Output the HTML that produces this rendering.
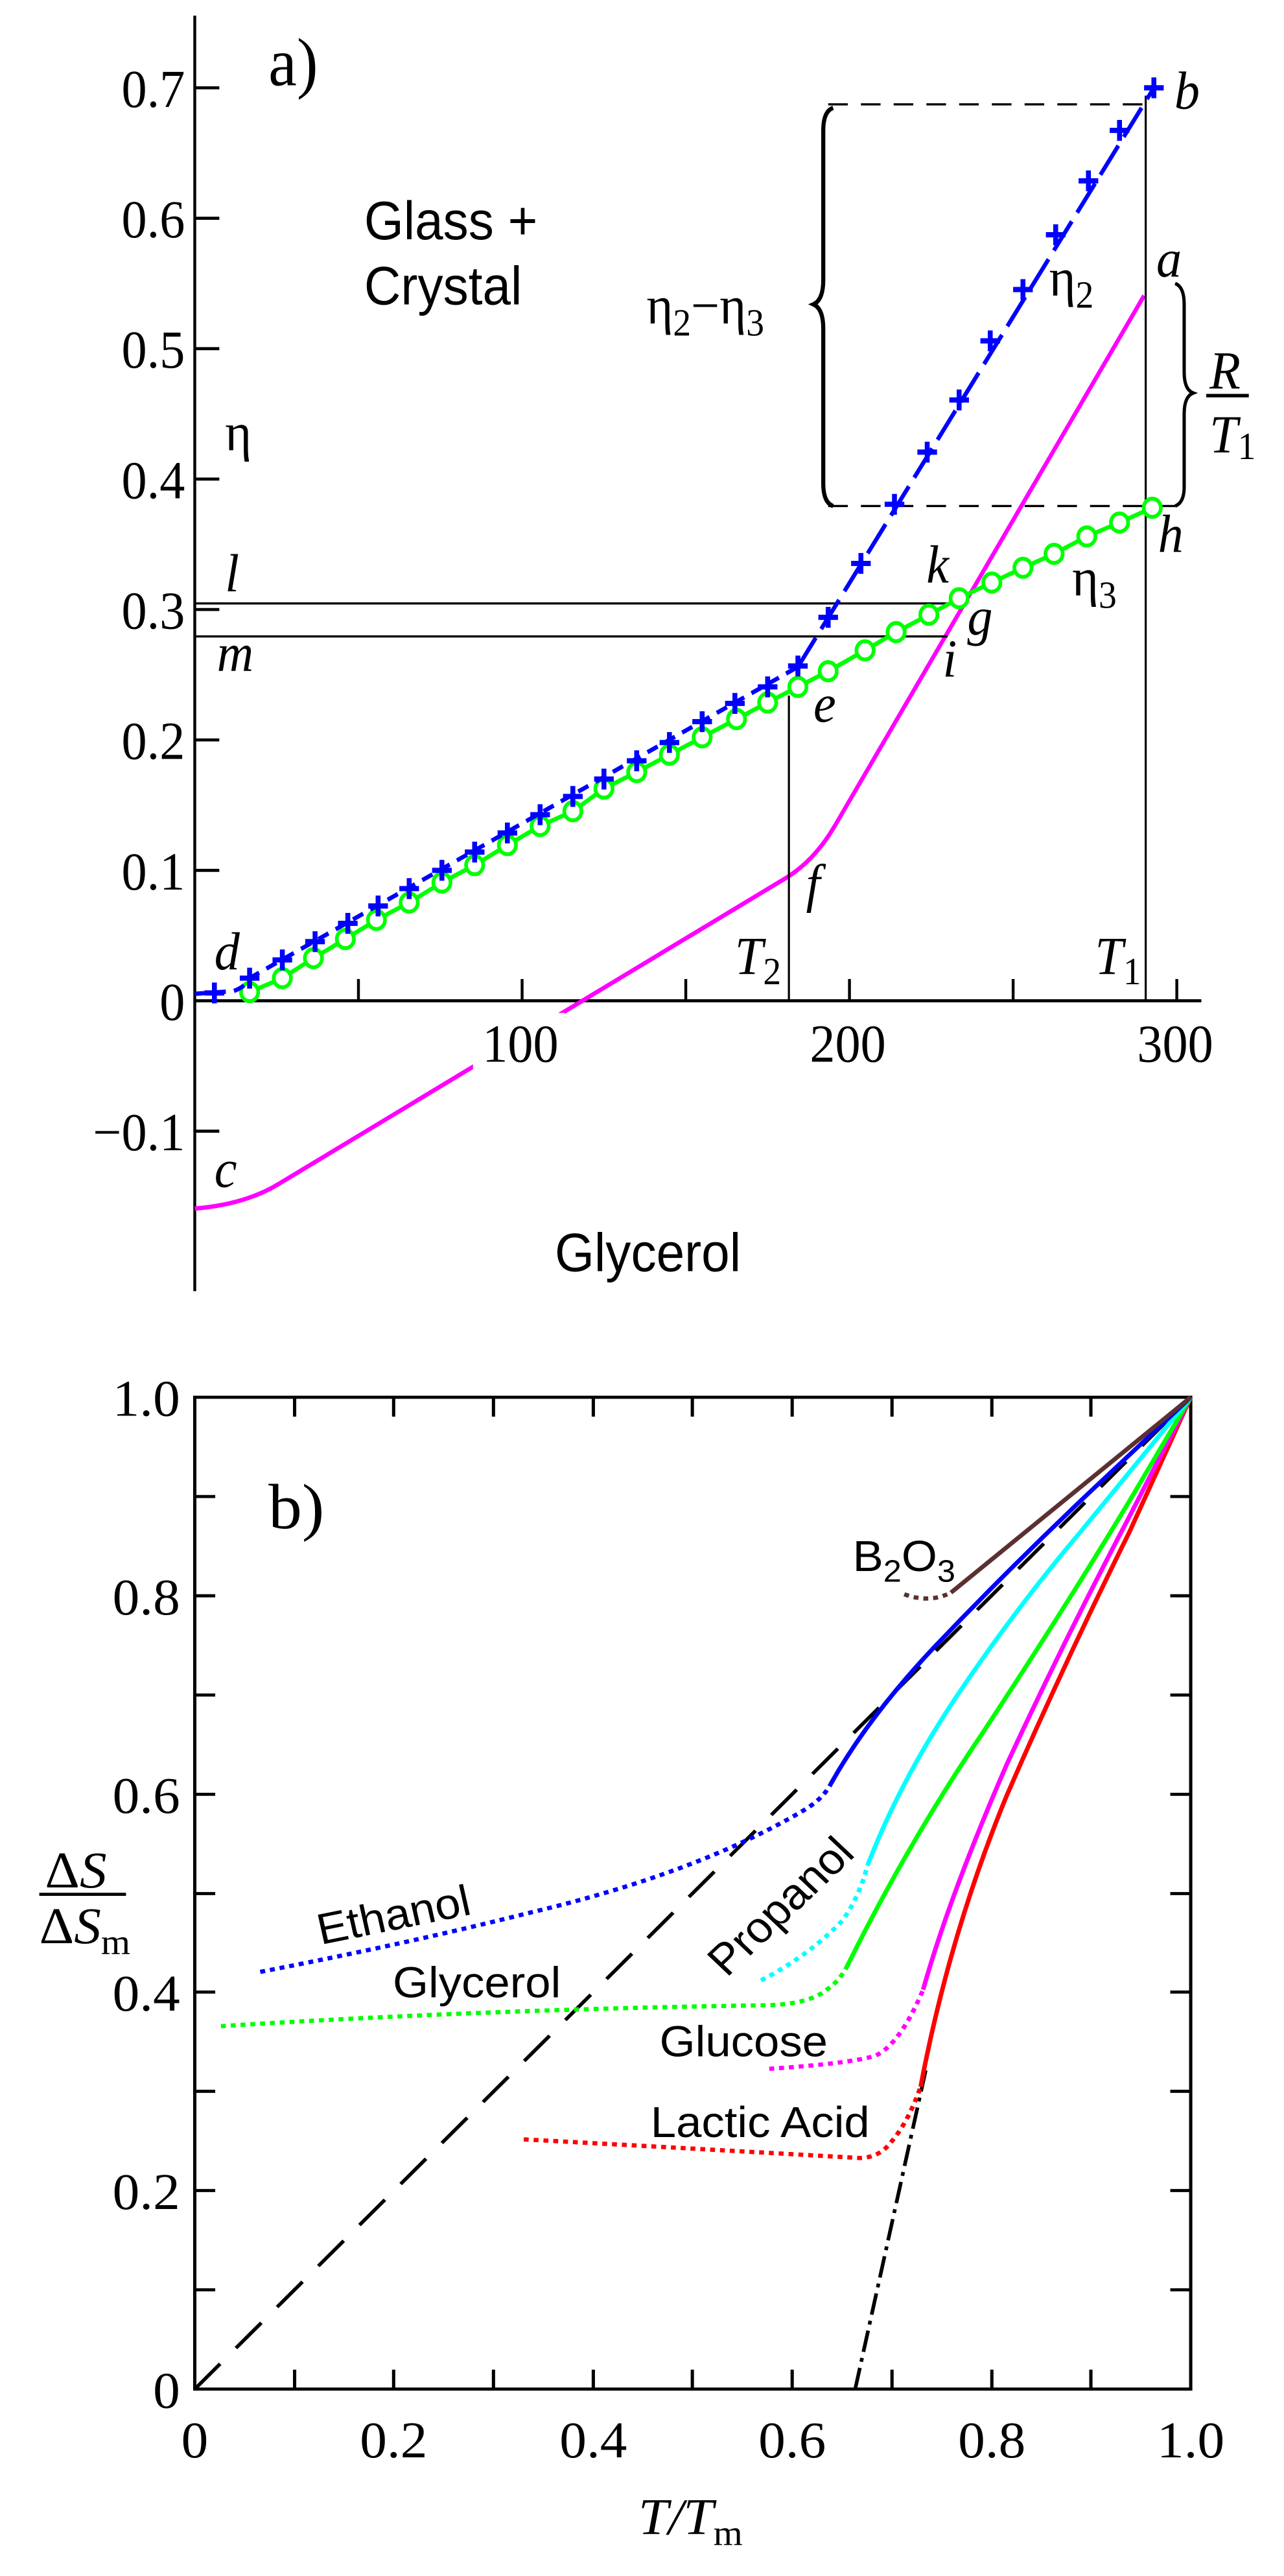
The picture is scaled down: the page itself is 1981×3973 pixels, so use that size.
<!DOCTYPE html>
<html><head><meta charset="utf-8"><style>
html,body{margin:0;padding:0;background:#fff}
svg{display:block}
.s{font-family:"Liberation Serif",serif}
.a{font-family:"Liberation Sans",sans-serif}
.i{font-family:"Liberation Serif",serif;font-style:italic}
</style></head><body>
<svg width="1981" height="3973" viewBox="0 0 1981 3973" xmlns="http://www.w3.org/2000/svg">
<defs>
<path id="p" d="M-12 0H12M0 -12V12" stroke="#0000ff" stroke-width="6" fill="none"/>
</defs>
<rect width="1981" height="3973" fill="#fff"/>
<g transform="scale(1.2626,1.341)">
 <line x1="238" y1="18" x2="238" y2="1485" stroke="#000" stroke-width="3.5"/>
 <line x1="238" y1="1151" x2="1468" y2="1151" stroke="#000" stroke-width="3.5"/>
 <g stroke="#000" stroke-width="3.5">
  <line x1="238" y1="101" x2="268" y2="101"/><line x1="238" y1="251" x2="268" y2="251"/>
  <line x1="238" y1="401" x2="268" y2="401"/><line x1="238" y1="551" x2="268" y2="551"/>
  <line x1="238" y1="701" x2="268" y2="701"/><line x1="238" y1="851" x2="268" y2="851"/>
  <line x1="238" y1="1001" x2="268" y2="1001"/><line x1="238" y1="1301" x2="268" y2="1301"/>
  <line x1="438" y1="1151" x2="438" y2="1126"/><line x1="638" y1="1151" x2="638" y2="1126"/>
  <line x1="838" y1="1151" x2="838" y2="1126"/><line x1="1038" y1="1151" x2="1038" y2="1126"/>
  <line x1="1238" y1="1151" x2="1238" y2="1126"/><line x1="1438" y1="1151" x2="1438" y2="1126"/>
 </g>
 <g class="s" font-size="62" text-anchor="end">
  <text x="226" y="123">0.7</text><text x="226" y="273">0.6</text><text x="226" y="423">0.5</text>
  <text x="226" y="573">0.4</text><text x="226" y="723">0.3</text><text x="226" y="873">0.2</text>
  <text x="226" y="1023">0.1</text><text x="226" y="1173">0</text><text x="226" y="1323">−0.1</text>
 </g>
 <path d="M238 1390 Q300 1385 340 1362 L960 1010 Q995 990 1020 950 L1398 340" stroke="#ff00ff" stroke-width="5" fill="none"/>
 <rect x="578" y="1165" width="112" height="66" fill="#fff"/>
 <g class="s" font-size="62" text-anchor="middle">
  <text x="636" y="1221">100</text><text x="1036" y="1221">200</text><text x="1436" y="1221">300</text>
 </g>
 <g stroke="#000" stroke-width="2.5" fill="none">
  <line x1="238" y1="694" x2="1160" y2="694"/>
  <line x1="238" y1="732" x2="1158" y2="732"/>
  <line x1="964" y1="1151" x2="964" y2="800"/>
  <line x1="1400" y1="1151" x2="1400" y2="110"/>
  <line x1="1012" y1="120" x2="1400" y2="120" stroke-dasharray="24,16"/>
  <line x1="1012" y1="582" x2="1440" y2="582" stroke-dasharray="24,16"/>
 </g>
 <path d="M1018 124 Q1006 128 1006 150 L1006 322 Q1006 345 994 350 Q1006 355 1006 378 L1006 556 Q1006 578 1018 582" stroke="#000" stroke-width="5" fill="none"/>
 <path d="M1436 326 Q1447 330 1447 350 L1447 428 Q1447 448 1458 452 Q1447 456 1447 476 L1447 560 Q1447 578 1436 582" stroke="#000" stroke-width="4" fill="none"/>
 <polyline points="305,1141 345,1125 383,1102 422,1080 460,1058 500,1038 540,1015 580,995 620,972 660,950 700,933 738,907 778,888 818,868 858,848 900,827 938,808 975,790 1012,772 1057,748 1095,727 1135,707 1172,688 1212,670 1250,653 1288,637 1328,617 1368,601 1408,584" stroke="#00ff00" stroke-width="5" fill="none"/>
 <g stroke="#00ff00" stroke-width="4.5" fill="#fff">
  <circle cx="305" cy="1141" r="10.5"/><circle cx="345" cy="1125" r="10.5"/><circle cx="383" cy="1102" r="10.5"/><circle cx="422" cy="1080" r="10.5"/><circle cx="460" cy="1058" r="10.5"/><circle cx="500" cy="1038" r="10.5"/><circle cx="540" cy="1015" r="10.5"/><circle cx="580" cy="995" r="10.5"/><circle cx="620" cy="972" r="10.5"/><circle cx="660" cy="950" r="10.5"/><circle cx="700" cy="933" r="10.5"/><circle cx="738" cy="907" r="10.5"/><circle cx="778" cy="888" r="10.5"/><circle cx="818" cy="868" r="10.5"/><circle cx="858" cy="848" r="10.5"/><circle cx="900" cy="827" r="10.5"/><circle cx="938" cy="808" r="10.5"/><circle cx="975" cy="790" r="10.5"/><circle cx="1012" cy="772" r="10.5"/><circle cx="1057" cy="748" r="10.5"/><circle cx="1095" cy="727" r="10.5"/><circle cx="1135" cy="707" r="10.5"/><circle cx="1172" cy="688" r="10.5"/><circle cx="1212" cy="670" r="10.5"/><circle cx="1250" cy="653" r="10.5"/><circle cx="1288" cy="637" r="10.5"/><circle cx="1328" cy="617" r="10.5"/><circle cx="1368" cy="601" r="10.5"/><circle cx="1408" cy="584" r="10.5"/>
 </g>
 <path d="M238 1143 L285 1140 Q300 1135 305 1125 L975 767" stroke="#0000ff" stroke-width="5" fill="none" stroke-dasharray="14,10"/>
 <path d="M975 767 L1410 101" stroke="#0000ff" stroke-width="5" fill="none" stroke-dasharray="40,12"/>
 <use href="#p" x="262" y="1142"/><use href="#p" x="305" y="1125"/><use href="#p" x="345" y="1104"/><use href="#p" x="385" y="1083"/><use href="#p" x="425" y="1062"/><use href="#p" x="462" y="1042"/><use href="#p" x="500" y="1022"/><use href="#p" x="540" y="1001"/><use href="#p" x="580" y="980"/><use href="#p" x="620" y="958"/><use href="#p" x="660" y="937"/><use href="#p" x="700" y="916"/><use href="#p" x="738" y="896"/><use href="#p" x="778" y="875"/><use href="#p" x="818" y="854"/><use href="#p" x="858" y="830"/><use href="#p" x="898" y="809"/><use href="#p" x="938" y="790"/><use href="#p" x="975" y="766"/>
 <use href="#p" x="1012" y="710"/><use href="#p" x="1052" y="648"/><use href="#p" x="1093" y="580"/><use href="#p" x="1133" y="520"/><use href="#p" x="1172" y="460"/><use href="#p" x="1210" y="392"/><use href="#p" x="1250" y="333"/><use href="#p" x="1290" y="270"/><use href="#p" x="1330" y="208"/><use href="#p" x="1368" y="150"/><use href="#p" x="1410" y="101"/>
 <text class="s" x="328" y="98" font-size="78">a)</text>
 <text class="a" x="445" y="275" font-size="62">Glass +</text>
 <text class="a" x="445" y="350" font-size="62">Crystal</text>
 <text class="a" x="678" y="1462" font-size="62">Glycerol</text>
 <text class="s" x="275" y="518" font-size="62">η</text>
 <text class="s" x="1282" y="340" font-size="62">η<tspan font-size="44" dy="14">2</tspan></text>
 <text class="s" x="1310" y="685" font-size="62">η<tspan font-size="44" dy="14">3</tspan></text>
 <text class="s" x="790" y="372" font-size="62">η<tspan font-size="44" dy="14">2</tspan><tspan dy="-14">−η</tspan><tspan font-size="44" dy="14">3</tspan></text>
 <g class="i" font-size="62">
  <text x="1435" y="125">b</text><text x="1413" y="318">a</text><text x="1415" y="635">h</text>
  <text x="1132" y="670">k</text><text x="1182" y="730">g</text><text x="1152" y="778">i</text>
  <text x="994" y="830">e</text><text x="985" y="1037">f</text><text x="262" y="1115">d</text>
  <text x="262" y="1365">c</text><text x="275" y="680">l</text><text x="265" y="772">m</text>
  <text x="898" y="1120">T<tspan font-style="normal" font-size="44" dy="12">2</tspan></text>
  <text x="1338" y="1120">T<tspan font-style="normal" font-size="44" dy="12">1</tspan></text>
  <text x="1478" y="447">R</text>
  <text x="1478" y="520">T<tspan font-style="normal" font-size="44" dy="8">1</tspan></text>
 </g>
 <line x1="1474" y1="455" x2="1526" y2="455" stroke="#000" stroke-width="4"/>
</g>

<g transform="translate(0,2100) scale(1.2626,1.196)">
 <rect x="238" y="46" width="1217" height="1279" fill="none" stroke="#000" stroke-width="4"/>
 <g stroke="#000" stroke-width="4">
  <path d="M238 174h25M238 302h25M238 430h25M238 558h25M238 686h25M238 813h25M238 941h25M238 1069h25M238 1197h25"/>
  <path d="M1455 174h-25M1455 302h-25M1455 430h-25M1455 558h-25M1455 686h-25M1455 813h-25M1455 941h-25M1455 1069h-25M1455 1197h-25"/>
  <path d="M360 1325v-25M481 1325v-25M603 1325v-25M725 1325v-25M846 1325v-25M968 1325v-25M1090 1325v-25M1212 1325v-25M1333 1325v-25"/>
  <path d="M360 46v25M481 46v25M603 46v25M725 46v25M846 46v25M968 46v25M1090 46v25M1212 46v25M1333 46v25"/>
 </g>
 <g class="s" font-size="66" text-anchor="end">
  <text x="220" y="70">1.0</text><text x="220" y="326">0.8</text><text x="220" y="582">0.6</text>
  <text x="220" y="837">0.4</text><text x="220" y="1093">0.2</text><text x="220" y="1349">0</text>
 </g>
 <g class="s" font-size="66" text-anchor="middle">
  <text x="238" y="1413">0</text><text x="481" y="1413">0.2</text><text x="725" y="1413">0.4</text>
  <text x="968" y="1413">0.6</text><text x="1212" y="1413">0.8</text><text x="1455" y="1413">1.0</text>
 </g>
 <text class="i" x="780" y="1512" font-size="66">T/T<tspan font-style="normal" font-size="46" dy="14">m</tspan></text>
 <text class="i" x="55" y="678" font-size="66"><tspan font-style="normal">Δ</tspan>S</text>
 <line x1="48" y1="687" x2="154" y2="687" stroke="#000" stroke-width="4"/>
 <text class="i" x="48" y="750" font-size="66"><tspan font-style="normal">Δ</tspan>S<tspan font-style="normal" font-size="46" dy="14">m</tspan></text>
 <text class="s" x="328" y="215" font-size="82">b)</text>

 <line x1="238" y1="1325" x2="1455" y2="46" stroke="#000" stroke-width="4.5" stroke-dasharray="45,28"/>
 <line x1="1045" y1="1325" x2="1132" y2="910" stroke="#000" stroke-width="4.5" stroke-dasharray="28,8,5,8"/>

 <g fill="none" stroke-width="5.5" stroke-linejoin="round">
  <path d="M640 1003 Q850 1015 1050 1027 Q1075 1027 1090 1005 Q1110 980 1125 935" stroke="#ff0000" stroke-dasharray="6,6"/>
  <path d="M1125 935 Q1160 740 1230 560 Q1300 390 1380 220 L1455 46" stroke="#ff0000"/>
  <path d="M940 912 Q1040 905 1070 895 Q1100 880 1128 810" stroke="#ff00ff" stroke-dasharray="6,6"/>
  <path d="M1128 810 Q1160 690 1230 520 Q1300 360 1380 200 L1455 46" stroke="#ff00ff"/>
  <path d="M270 857 Q600 835 940 830 Q990 828 1010 810 Q1025 800 1035 780" stroke="#00ff00" stroke-dasharray="6,6"/>
  <path d="M1035 780 Q1110 620 1200 480 Q1300 320 1380 180 L1455 46" stroke="#00ff00"/>
  <path d="M930 798 Q990 765 1030 720 Q1050 690 1060 650" stroke="#00ffff" stroke-dasharray="6,6"/>
  <path d="M1060 650 Q1100 540 1170 430 Q1240 320 1320 220 Q1390 130 1455 46" stroke="#00ffff"/>
  <path d="M318 787 Q500 750 650 710 Q850 660 980 580 Q1005 565 1015 545" stroke="#0000ff" stroke-dasharray="6,6"/>
  <path d="M1015 545 Q1060 460 1140 370 Q1230 270 1330 170 L1455 46" stroke="#0000ff"/>
  <path d="M1105 300 Q1135 312 1162 298" stroke="#5c3030" stroke-dasharray="6,6"/>
  <path d="M1162 298 L1455 46" stroke="#5c3030"/>
 </g>
 <g class="a" font-size="56">
  <text x="392" y="752" transform="rotate(-12 392 752)">Ethanol</text>
  <text x="480" y="820">Glycerol</text>
  <text x="888" y="795" transform="rotate(-45 888 795)">Propanol</text>
  <text x="806" y="896">Glucose</text>
  <text x="795" y="1000">Lactic Acid</text>
  <text x="1042" y="270">B<tspan font-size="40" dy="14">2</tspan><tspan dy="-14">O</tspan><tspan font-size="40" dy="14">3</tspan></text>
 </g>
</g>
</svg>
</body></html>
